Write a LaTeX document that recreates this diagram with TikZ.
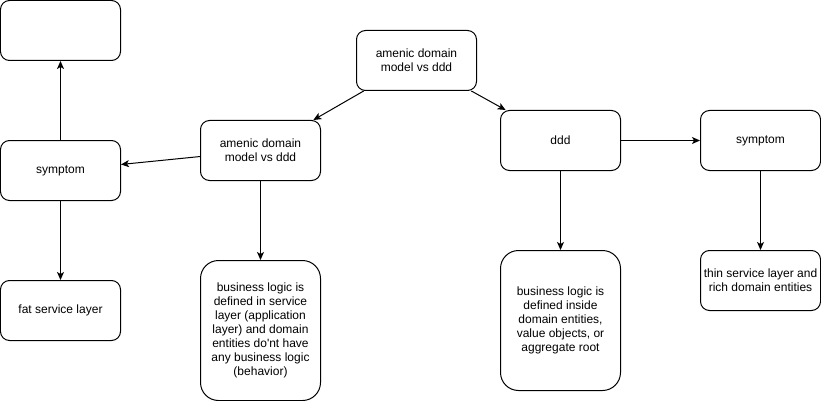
\documentclass[tikz,border=0pt]{standalone}
\usepackage{fontspec}
\setmainfont{Liberation Sans}
\usetikzlibrary{arrows.meta}

\begin{document}
\begin{tikzpicture}[x=1pt, y=-1pt,
    box/.style={draw, line width=1pt, rounded corners=9pt, minimum width=120pt, minimum height=60pt, align=center, inner sep=2pt, font=\fontsize{12}{14}\selectfont},
    tallbox/.style={box, rounded corners=18pt, minimum height=140pt},
    link/.style={line width=1pt, -{Stealth[length=8pt, width=7pt, inset=2pt]}}]
    \useasboundingbox (-0.5, -0.5) rectangle (820.5, 400.5);

    \node [box] (top) at (416, 60) {amenic domain\\model vs ddd};

    % left branch
    \node [box] (anemic) at (260, 150) {amenic domain\\model vs ddd};
    \node [tallbox] (anemiclogic) at (260, 330) {business logic is\\defined in service\\layer (application\\layer) and domain\\entities do\textquotesingle nt have\\any business logic\\(behavior)};
    \node [box] (symptoml) at (60, 170) {symptom};
    \node [box] (blank) at (60, 30) {};
    \node [box] (fat) at (60, 310) {fat service layer};

    % right branch
    \node [box] (ddd) at (560, 140) {ddd};
    \node [tallbox] (dddlogic) at (560, 320) {business logic is\\defined inside\\domain entities,\\value objects, or\\aggregate root};
    \node [box] (symptomr) at (760, 140) {symptom};
    \node [box] (thin) at (760, 280) {thin service layer and\\rich domain entities};

    \draw [link] (top) -- (anemic);
    \draw [link] (top) -- (ddd);
    \draw [link] (anemic) -- (symptoml);
    \draw [link] (anemic) -- (anemiclogic);
    \draw [link] (symptoml) -- (blank);
    \draw [link] (symptoml) -- (fat);
    \draw [link] (ddd) -- (symptomr);
    \draw [link] (ddd) -- (dddlogic);
    \draw [link] (symptomr) -- (thin);
\end{tikzpicture}
\end{document}
